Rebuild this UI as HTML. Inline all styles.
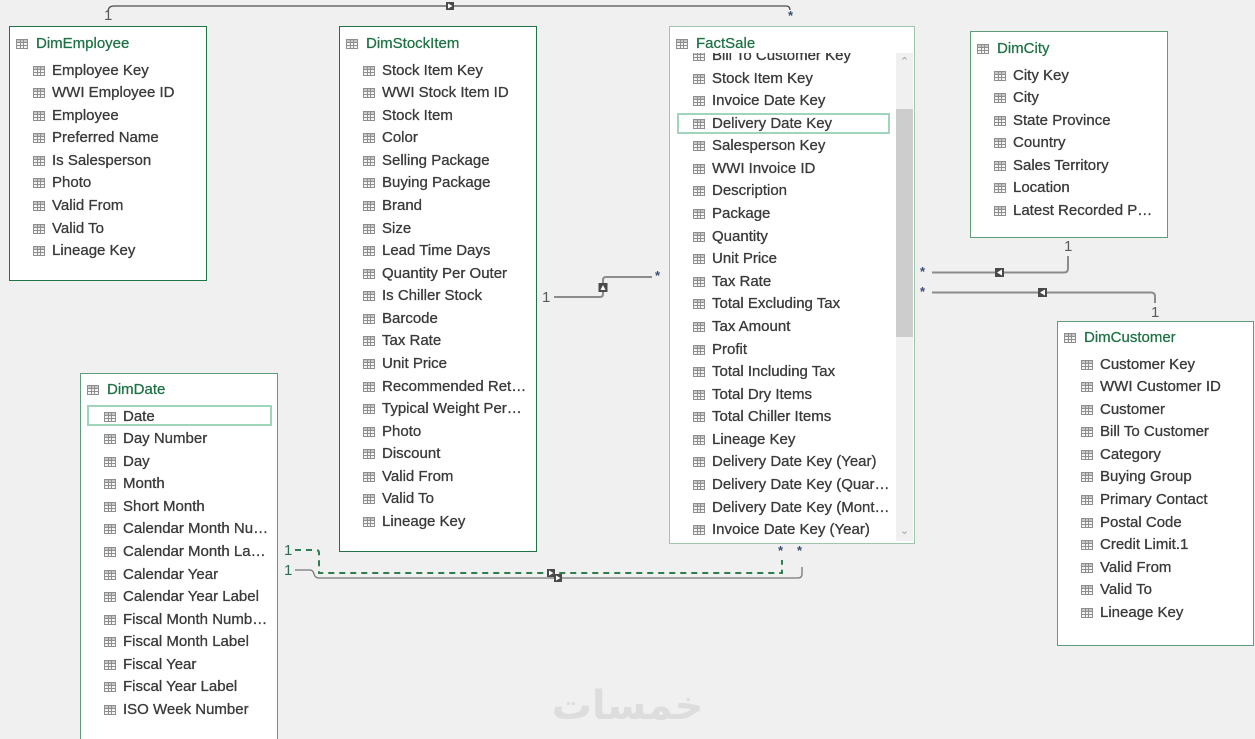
<!DOCTYPE html>
<html><head><meta charset="utf-8">
<style>
html,body{margin:0;padding:0;width:1255px;height:739px;overflow:hidden}
body{background:#f0f0f0;position:relative;font-family:"Liberation Sans",Arial,sans-serif}
.t{position:absolute;background:#fff;box-sizing:border-box;border:1px solid #217346;overflow:hidden;z-index:2}
.t.l{border-color:#5f9c7c}
.t.f{border-color:#9cc7ae}
.ttl{position:absolute;left:0;top:6px;height:22px;line-height:22px;padding-left:26px;font-size:15px;color:#1e7145;white-space:nowrap;-webkit-text-stroke:0.25px #1e7145}
.ttl .ic{left:6px}
.rows{position:absolute;left:0;top:32.5px;right:0}
.r{position:relative;height:22.58px;line-height:22.58px;padding-left:42px;font-size:15px;color:#3a3a3a;white-space:nowrap;-webkit-text-stroke:0.3px #3a3a3a}
.ic{position:absolute;left:23px;top:6px;width:12px;height:10px;box-sizing:border-box;border:1px solid #8e8e8e;background-color:#f4f4f4;
background-image:linear-gradient(#8e8e8e,#8e8e8e),linear-gradient(#8e8e8e,#8e8e8e),linear-gradient(#8e8e8e,#8e8e8e),linear-gradient(#8e8e8e,#8e8e8e),linear-gradient(#c8c8c8,#c8c8c8);
background-size:100% 1px,100% 1px,1px 100%,1px 100%,100% 2px;
background-position:0 2px,0 5px,3px 0,6px 0,0 0;background-repeat:no-repeat;-webkit-text-stroke:0}
.hl{position:absolute;box-sizing:border-box;border:2px solid #9fd5b8;z-index:3}
.lbl{position:absolute;font-size:15px;color:#5a5a5a;z-index:4}
.st{position:absolute;font-size:13px;font-weight:bold;color:#3a4d72;z-index:4}
svg{position:absolute;left:0;top:0;z-index:1}
</style></head><body>

<svg width="1255" height="739" viewBox="0 0 1255 739">
  <path d="M108 12 Q108 6 114 6 L786 6 Q790 6 790 10" fill="none" stroke="#4d4d4d" stroke-width="1.3"/>
  <rect x="446" y="2" width="8" height="8" fill="#4a4a4a"/>
  <polygon points="448,3.5 448,8.5 452.5,6" fill="#fff"/>
  <path d="M554 297 L600 297 Q603 297 603 294 L603 280 Q603 277 606 277 L652 277" fill="none" stroke="#8c8c8c" stroke-width="2"/>
  <rect x="598.5" y="283" width="9" height="9" fill="#4a4a4a"/>
  <polygon points="600.5,290 605.5,290 603,285" fill="#fff"/>
  <path d="M932 272.5 L1064 272.5 Q1068 272.5 1068 268.5 L1068 256" fill="none" stroke="#8c8c8c" stroke-width="2"/>
  <rect x="995" y="268" width="9" height="9" fill="#4a4a4a"/>
  <polygon points="1002,269.5 1002,275.5 997,272.5" fill="#fff"/>
  <path d="M932 292.5 L1151 292.5 Q1155 292.5 1155 296.5 L1155 303" fill="none" stroke="#8c8c8c" stroke-width="2"/>
  <rect x="1038" y="288" width="9" height="9" fill="#4a4a4a"/>
  <polygon points="1045,289.5 1045,295.5 1040,292.5" fill="#fff"/>
  <path d="M295 550 L316 550 Q319 550 319 553 L319 573 L782 573 L782 560" fill="none" stroke="#2e7d4f" stroke-width="2" stroke-dasharray="6,5"/>
  <path d="M295 570 L310 570 Q313 570 314 574 Q315 578 319 578 L798 578 Q802 578 802 574 L802 567" fill="none" stroke="#777" stroke-width="1.3"/>
  <rect x="547" y="569" width="8" height="8" fill="#4a4a4a"/>
  <polygon points="549,570.5 549,575.5 553.5,573" fill="#fff"/>
  <rect x="554" y="574" width="8" height="8" fill="#4a4a4a"/>
  <polygon points="556,575.5 556,580.5 560.5,578" fill="#fff"/>
</svg>

<div class="lbl" style="left:104px;top:7px;">1</div>
<div class="st" style="left:788px;top:8px;">*</div>
<div class="lbl" style="left:542px;top:289px;">1</div>
<div class="st" style="left:655px;top:268px;">*</div>
<div class="st" style="left:920px;top:264px;">*</div>
<div class="lbl" style="left:1064px;top:238px;">1</div>
<div class="st" style="left:920px;top:284px;">*</div>
<div class="lbl" style="left:1151px;top:304px;">1</div>
<div class="lbl" style="left:284px;top:542px;color:#2d6e52;">1</div>
<div class="lbl" style="left:284px;top:562px;color:#2d6e52;">1</div>
<div class="st" style="left:778px;top:543px;">*</div>
<div class="st" style="left:797px;top:543px;">*</div>

<div class="t" style="left:9px;top:26px;width:198px;height:255px;">
  <div class="ttl"><span class="ic"></span>DimEmployee</div>
  <div class="rows">
    <div class="r"><span class="ic"></span>Employee Key</div>
    <div class="r"><span class="ic"></span>WWI Employee ID</div>
    <div class="r"><span class="ic"></span>Employee</div>
    <div class="r"><span class="ic"></span>Preferred Name</div>
    <div class="r"><span class="ic"></span>Is Salesperson</div>
    <div class="r"><span class="ic"></span>Photo</div>
    <div class="r"><span class="ic"></span>Valid From</div>
    <div class="r"><span class="ic"></span>Valid To</div>
    <div class="r"><span class="ic"></span>Lineage Key</div>
  </div>
</div>

<div class="t" style="left:339px;top:26px;width:198px;height:526px;">
  <div class="ttl"><span class="ic"></span>DimStockItem</div>
  <div class="rows">
    <div class="r"><span class="ic"></span>Stock Item Key</div>
    <div class="r"><span class="ic"></span>WWI Stock Item ID</div>
    <div class="r"><span class="ic"></span>Stock Item</div>
    <div class="r"><span class="ic"></span>Color</div>
    <div class="r"><span class="ic"></span>Selling Package</div>
    <div class="r"><span class="ic"></span>Buying Package</div>
    <div class="r"><span class="ic"></span>Brand</div>
    <div class="r"><span class="ic"></span>Size</div>
    <div class="r"><span class="ic"></span>Lead Time Days</div>
    <div class="r"><span class="ic"></span>Quantity Per Outer</div>
    <div class="r"><span class="ic"></span>Is Chiller Stock</div>
    <div class="r"><span class="ic"></span>Barcode</div>
    <div class="r"><span class="ic"></span>Tax Rate</div>
    <div class="r"><span class="ic"></span>Unit Price</div>
    <div class="r"><span class="ic"></span>Recommended Ret…</div>
    <div class="r"><span class="ic"></span>Typical Weight Per…</div>
    <div class="r"><span class="ic"></span>Photo</div>
    <div class="r"><span class="ic"></span>Discount</div>
    <div class="r"><span class="ic"></span>Valid From</div>
    <div class="r"><span class="ic"></span>Valid To</div>
    <div class="r"><span class="ic"></span>Lineage Key</div>
  </div>
</div>

<div class="t f" style="left:669px;top:26px;width:246px;height:518px;">
  <div class="ttl"><span class="ic"></span>FactSale</div>
  <div style="position:absolute;left:0;top:26px;width:226px;height:488px;overflow:hidden;">
    <div class="rows" style="top:-8px;">
      <div class="r"><span class="ic"></span>Bill To Customer Key</div>
      <div class="r"><span class="ic"></span>Stock Item Key</div>
      <div class="r"><span class="ic"></span>Invoice Date Key</div>
      <div class="r"><span class="ic"></span>Delivery Date Key</div>
      <div class="r"><span class="ic"></span>Salesperson Key</div>
      <div class="r"><span class="ic"></span>WWI Invoice ID</div>
      <div class="r"><span class="ic"></span>Description</div>
      <div class="r"><span class="ic"></span>Package</div>
      <div class="r"><span class="ic"></span>Quantity</div>
      <div class="r"><span class="ic"></span>Unit Price</div>
      <div class="r"><span class="ic"></span>Tax Rate</div>
      <div class="r"><span class="ic"></span>Total Excluding Tax</div>
      <div class="r"><span class="ic"></span>Tax Amount</div>
      <div class="r"><span class="ic"></span>Profit</div>
      <div class="r"><span class="ic"></span>Total Including Tax</div>
      <div class="r"><span class="ic"></span>Total Dry Items</div>
      <div class="r"><span class="ic"></span>Total Chiller Items</div>
      <div class="r"><span class="ic"></span>Lineage Key</div>
      <div class="r"><span class="ic"></span>Delivery Date Key (Year)</div>
      <div class="r"><span class="ic"></span>Delivery Date Key (Quar…</div>
      <div class="r"><span class="ic"></span>Delivery Date Key (Mont…</div>
      <div class="r"><span class="ic"></span>Invoice Date Key (Year)</div>
    </div>
  </div>
  <div style="position:absolute;left:226px;top:26px;width:17px;height:488px;background:#f0f0f0;">
    <div style="position:absolute;left:0;top:56px;width:17px;height:228px;background:#cdcdcd;"></div>
    <div style="position:absolute;left:0;top:2px;width:17px;text-align:center;font-size:11px;color:#a0a0a0;line-height:14px;">&#8963;</div>
    <div style="position:absolute;left:0;bottom:3px;width:17px;text-align:center;font-size:11px;color:#a0a0a0;line-height:14px;">&#8964;</div>
  </div>
</div>
<div class="hl" style="left:677px;top:113px;width:213px;height:21px;"></div>

<div class="t l" style="left:970px;top:31px;width:198px;height:207px;">
  <div class="ttl"><span class="ic"></span>DimCity</div>
  <div class="rows">
    <div class="r"><span class="ic"></span>City Key</div>
    <div class="r"><span class="ic"></span>City</div>
    <div class="r"><span class="ic"></span>State Province</div>
    <div class="r"><span class="ic"></span>Country</div>
    <div class="r"><span class="ic"></span>Sales Territory</div>
    <div class="r"><span class="ic"></span>Location</div>
    <div class="r"><span class="ic"></span>Latest Recorded P…</div>
  </div>
</div>

<div class="t l" style="left:1057px;top:321px;width:197px;height:325px;">
  <div class="ttl" style="top:5px;"><span class="ic"></span>DimCustomer</div>
  <div class="rows" style="top:31.5px;">
    <div class="r"><span class="ic"></span>Customer Key</div>
    <div class="r"><span class="ic"></span>WWI Customer ID</div>
    <div class="r"><span class="ic"></span>Customer</div>
    <div class="r"><span class="ic"></span>Bill To Customer</div>
    <div class="r"><span class="ic"></span>Category</div>
    <div class="r"><span class="ic"></span>Buying Group</div>
    <div class="r"><span class="ic"></span>Primary Contact</div>
    <div class="r"><span class="ic"></span>Postal Code</div>
    <div class="r"><span class="ic"></span>Credit Limit.1</div>
    <div class="r"><span class="ic"></span>Valid From</div>
    <div class="r"><span class="ic"></span>Valid To</div>
    <div class="r"><span class="ic"></span>Lineage Key</div>
  </div>
</div>

<div class="t l" style="left:80px;top:373px;width:198px;height:366px;border-bottom:none;">
  <div class="ttl" style="top:5px;"><span class="ic"></span>DimDate</div>
  <div class="rows" style="top:31.5px;">
    <div class="r"><span class="ic"></span>Date</div>
    <div class="r"><span class="ic"></span>Day Number</div>
    <div class="r"><span class="ic"></span>Day</div>
    <div class="r"><span class="ic"></span>Month</div>
    <div class="r"><span class="ic"></span>Short Month</div>
    <div class="r"><span class="ic"></span>Calendar Month Nu…</div>
    <div class="r"><span class="ic"></span>Calendar Month La…</div>
    <div class="r"><span class="ic"></span>Calendar Year</div>
    <div class="r"><span class="ic"></span>Calendar Year Label</div>
    <div class="r"><span class="ic"></span>Fiscal Month Numb…</div>
    <div class="r"><span class="ic"></span>Fiscal Month Label</div>
    <div class="r"><span class="ic"></span>Fiscal Year</div>
    <div class="r"><span class="ic"></span>Fiscal Year Label</div>
    <div class="r"><span class="ic"></span>ISO Week Number</div>
  </div>
</div>
<div class="hl" style="left:87px;top:405px;width:185px;height:21px;"></div>

<div style="position:absolute;left:545px;top:681px;width:165px;height:50px;text-align:center;font-family:'DejaVu Sans',sans-serif;font-size:40px;font-weight:bold;color:#dddddd;z-index:0;line-height:50px;overflow:hidden;">خمسات</div>

</body></html>
